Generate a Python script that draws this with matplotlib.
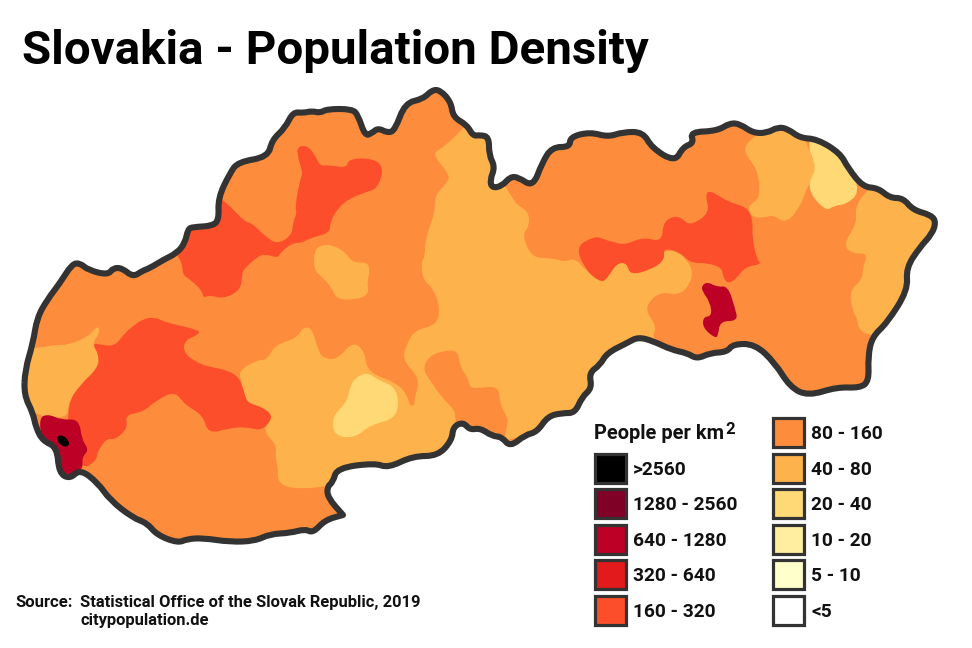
import matplotlib
matplotlib.use("Agg")
import matplotlib.pyplot as plt
from matplotlib.patches import PathPatch, Rectangle
from matplotlib.path import Path

plt.rcParams['font.family'] = ['Roboto', 'DejaVu Sans']

title = "Slovakia - Population Density"
legend_title = "People per km"
legend_labels_left = [">2560", "1280 - 2560", "640 - 1280", "320 - 640", "160 - 320"]
legend_colors_left = ["#000000", "#800026", "#BD0026", "#E31A1C", "#FC4E2A"]
legend_labels_right = ["80 - 160", "40 - 80", "20 - 40", "10 - 20", "5 - 10", "<5"]
legend_colors_right = ["#FD8D3C", "#FEB24C", "#FED976", "#FFEDA0", "#FFFFCC", "#FFFFFF"]

# map shapes in image pixels
border = [
    (25, 370), (33, 343), (37, 318), (47, 300), (60, 283), (72, 264), (80, 263), (88, 270),
    (108, 275), (113, 268), (122, 268), (133, 277), (142, 271), (150, 268), (163, 260),
    (177, 253), (185, 243), (188, 229), (193, 227), (212, 226), (219, 220), (218, 198),
    (230, 173), (238, 162), (268, 157), (272, 140), (285, 128), (293, 112), (303, 113),
    (312, 111), (320, 113), (327, 109), (352, 109), (358, 115), (365, 136), (372, 133),
    (378, 128), (388, 133), (395, 130), (405, 103), (423, 99), (432, 90), (440, 90),
    (451, 102), (453, 117), (467, 125), (473, 136), (480, 135), (489, 137), (489, 155),
    (495, 167), (490, 180), (492, 188), (502, 186), (510, 177), (518, 177), (533, 187),
    (542, 163), (552, 147), (570, 147), (570, 137), (590, 132), (608, 137), (623, 132),
    (643, 132), (652, 148), (675, 162), (683, 147), (694, 143), (690, 132), (717, 131),
    (730, 123), (740, 124), (753, 133), (767, 133), (778, 127), (788, 129), (800, 138),
    (817, 139), (840, 153), (848, 168), (863, 187), (878, 188), (890, 198), (903, 198),
    (913, 210), (931, 215), (936, 222), (932, 234), (920, 247), (906, 268), (908, 290),
    (887, 323), (872, 337), (868, 357), (869, 381), (860, 388), (837, 387), (808, 396),
    (790, 387), (775, 363), (755, 344), (733, 344), (727, 352), (710, 353), (697, 359),
    (687, 353), (672, 350), (653, 341), (638, 337), (627, 343), (607, 353), (600, 365),
    (589, 373), (592, 388), (582, 397), (575, 413), (563, 413), (548, 416), (537, 432),
    (525, 435), (510, 447), (502, 437), (492, 436), (480, 428), (470, 430), (463, 422),
    (453, 427), (452, 440), (438, 456), (413, 456), (388, 468), (375, 463), (337, 468),
    (333, 482), (327, 487), (328, 498), (343, 515), (343, 515), (325, 520), (313, 533), (305, 529),
    (290, 533), (270, 534), (255, 541), (230, 542), (203, 538), (187, 539), (178, 543),
    (157, 535), (147, 523), (133, 518), (110, 500), (98, 483), (80, 469), (70, 479),
    (59, 473), (57, 447), (43, 441), (36, 428), (33, 413), (24, 395),
]
zahorie = [
    (38, 348), (55, 345), (68, 345), (88, 337), (98, 325), (100, 333), (92, 343), (99, 355),
    (98, 368), (80, 385), (68, 403), (68, 418), (40, 417), (15, 400), (15, 350),
]
west_red = [
    (92, 343), (102, 345), (115, 346), (125, 333), (133, 326), (143, 319), (155, 317),
    (167, 323), (200, 330), (198, 335), (185, 340), (183, 352), (197, 363), (210, 367),
    (227, 370), (240, 378), (245, 395), (248, 403), (263, 407), (274, 417), (262, 431),
    (247, 427), (230, 428), (208, 434), (203, 415), (185, 405), (175, 391), (157, 400),
    (143, 412), (125, 415), (128, 428), (115, 440), (107, 438), (97, 452), (97, 460),
    (82, 470), (68, 440), (68, 403), (80, 385), (98, 368), (99, 355),
]
north_red = [
    (227, 203), (245, 222), (252, 223), (267, 238), (278, 244), (292, 235), (293, 222),
    (297, 213), (295, 207), (300, 180), (303, 173), (297, 155), (298, 146), (308, 146),
    (315, 155), (320, 166), (328, 165), (347, 168), (348, 159), (372, 158), (384, 167),
    (378, 188), (367, 192), (350, 198), (338, 208), (330, 222), (330, 233), (310, 238),
    (302, 243), (292, 243), (280, 253), (278, 258), (265, 254), (257, 257), (245, 268),
    (242, 273), (241, 290), (223, 299), (210, 295), (203, 298), (202, 290), (188, 278),
    (183, 275), (182, 263), (178, 257), (170, 240), (190, 220), (215, 195),
]
turiec = [
    (320, 245), (333, 245), (345, 252), (353, 263), (367, 262), (370, 270), (367, 283),
    (369, 293), (360, 299), (337, 300), (332, 288), (322, 277), (314, 270), (314, 252),
]
central = [
    (470, 120), (457, 135), (442, 148), (432, 154), (450, 175), (447, 183), (435, 195),
    (435, 212), (425, 240), (425, 257), (421, 262), (423, 280), (433, 288), (440, 307),
    (437, 325), (415, 330), (407, 343), (402, 360), (420, 378), (415, 397), (414, 406),
    (410, 406), (407, 395), (397, 383), (367, 372), (365, 352), (353, 341), (337, 360),
    (323, 358), (318, 350), (312, 328), (303, 327), (297, 338), (275, 345), (267, 360),
    (257, 360), (240, 370), (240, 378), (245, 395), (248, 403), (263, 407), (274, 417),
    (262, 430), (277, 445), (275, 455), (278, 468), (278, 483), (293, 489), (325, 487),
    (345, 482), (400, 470), (480, 445), (600, 420), (660, 345), (652, 337), (657, 327),
    (645, 310), (652, 298), (663, 292), (677, 295), (688, 288), (694, 270), (680, 252),
    (663, 250), (663, 262), (650, 270), (630, 275), (627, 263), (617, 263), (608, 277),
    (602, 282), (587, 272), (575, 258), (565, 262), (552, 258), (532, 258), (522, 235),
    (529, 227), (529, 212), (517, 205), (512, 197), (505, 186), (495, 170), (490, 130),
]
central_patch = [
    (423, 370), (428, 357), (442, 351), (458, 350), (460, 367), (468, 378), (470, 388),
    (480, 388), (499, 386), (500, 405), (508, 418), (507, 428), (502, 445), (480, 440),
    (460, 435), (455, 420), (455, 410), (442, 398), (430, 380),
]
south_yellow = [
    (355, 378), (367, 372), (378, 380), (398, 388), (398, 418), (370, 425), (355, 438),
    (334, 436), (332, 417), (347, 402), (350, 387),
]
east_red = [
    (575, 247), (595, 236), (603, 239), (613, 242), (625, 245), (643, 237), (662, 242),
    (663, 223), (673, 216), (682, 218), (690, 226), (710, 213), (705, 195), (710, 190),
    (728, 202), (747, 207), (753, 220), (752, 237), (757, 260), (762, 264), (745, 267),
    (737, 278), (728, 284), (723, 277), (722, 268), (708, 263), (690, 263), (680, 252),
    (663, 248), (665, 260), (650, 270), (630, 275), (627, 263), (617, 263), (608, 277),
    (602, 283), (587, 272),
]
northeast = [
    (753, 137), (743, 149), (750, 160), (758, 172), (760, 192), (757, 200), (747, 207),
    (753, 218), (767, 217), (773, 215), (787, 224), (802, 203), (805, 192), (810, 183),
    (817, 168), (807, 145), (800, 125), (780, 118),
]
northeast_yellow = [
    (807, 145), (817, 168), (808, 183), (813, 198), (827, 211), (833, 206), (847, 204),
    (860, 192), (850, 165), (835, 145), (815, 130),
]
far_east = [
    (865, 192), (855, 208), (857, 223), (843, 245), (853, 254), (868, 253), (863, 267),
    (862, 280), (850, 290), (852, 310), (858, 320), (858, 328), (868, 336), (900, 335),
    (950, 230), (935, 195), (880, 180),
]
kosice = [
    (702, 285), (708, 282), (717, 287), (728, 286), (735, 308), (738, 321), (720, 321),
    (718, 336), (715, 338), (703, 328), (703, 317), (712, 316), (710, 302), (702, 291),
]
bratislava = [
    (39, 418), (48, 414), (62, 420), (79, 419), (82, 440), (89, 450), (82, 457), (83, 470),
    (68, 478), (56, 470), (54, 447), (42, 441),
]
bratislava_core = [
    (57, 436), (63, 435), (69, 441), (69, 446), (63, 447), (57, 441),
]

regions = [
    (zahorie, "#FEB24C"), (west_red, "#FC4E2A"), (north_red, "#FC4E2A"), (turiec, "#FEB24C"),
    (central, "#FEB24C"), (central_patch, "#FD8D3C"), (south_yellow, "#FED976"),
    (east_red, "#FC4E2A"), (northeast, "#FEB24C"), (northeast_yellow, "#FED976"),
    (far_east, "#FEB24C"), (kosice, "#BD0026"), (bratislava, "#BD0026"),
    (bratislava_core, "#000000"),
]


def rounded_path(points):
    # closed curve with the traced points as control points, so the edges look hand drawn
    mids = [((points[i][0] + points[(i + 1) % len(points)][0]) / 2,
             (points[i][1] + points[(i + 1) % len(points)][1]) / 2) for i in range(len(points))]
    verts = [mids[-1]]
    codes = [Path.MOVETO]
    for point, mid in zip(points, mids):
        verts += [point, mid]
        codes += [Path.CURVE3, Path.CURVE3]
    return Path(verts, codes)


fig = plt.figure(figsize=(9.72, 6.48), dpi=100)
ax = fig.add_axes([0, 0, 1, 1])
ax.set_xlim(0, 972)
ax.set_ylim(648, 0)
ax.axis('off')

outline = PathPatch(rounded_path(border), facecolor="#FD8D3C", edgecolor='none', zorder=1)
ax.add_patch(outline)
for shape, color in regions:
    patch = PathPatch(rounded_path(shape), facecolor=color, edgecolor='none', zorder=2)
    ax.add_patch(patch)
    patch.set_clip_path(outline)
ax.add_patch(PathPatch(rounded_path(border), fill=False, edgecolor="#333333", linewidth=4.4,
                       joinstyle='round', zorder=3))

ax.text(22, 64, title, fontsize=34.2, fontweight='bold', color='black', va='baseline')

# legend
left_tops = [452, 487, 523, 558, 594]
right_tops = [416, 452, 487, 523, 558, 594]
for labels, colors, tops, box_x, text_x in [
    (legend_labels_left, legend_colors_left, left_tops, 594.5, 633),
    (legend_labels_right, legend_colors_right, right_tops, 772.5, 811),
]:
    for label, color, top in zip(labels, colors, tops):
        ax.add_patch(Rectangle((box_x, top + 1.5), 31, 29.5, facecolor=color,
                               edgecolor="#333333", linewidth=2.3, zorder=3))
        ax.text(text_x, top + 23, label, fontsize=13.8, fontweight='bold', color='#111111',
                va='baseline')

ax.text(594, 439, legend_title, fontsize=14.4, fontweight='bold', color='#111111', va='baseline')
ax.text(725, 434, "2", fontsize=12, fontweight='bold', color='#111111', va='baseline')

ax.text(15, 607, "Source:", fontsize=12, fontweight='bold', color='#111111', va='baseline')
ax.text(80, 607, "Statistical Office of the Slovak Republic, 2019", fontsize=11.9,
        fontweight='bold', color='#111111', va='baseline')
ax.text(80, 625, "citypopulation.de", fontsize=11.9, fontweight='bold', color='#111111', va='baseline')

fig.savefig("out.png", dpi=100)
